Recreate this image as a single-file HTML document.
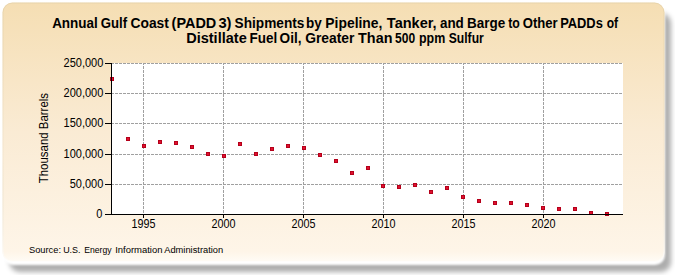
<!DOCTYPE html>
<html><head><meta charset="utf-8"><style>
html,body{margin:0;padding:0;background:#fff;width:675px;height:275px;overflow:hidden}
svg{display:block}
text{font-family:'Liberation Sans',sans-serif;fill:#000}
</style></head><body>
<svg width="675" height="275" viewBox="0 0 675 275">
<defs>
<linearGradient id="bg" x1="0" y1="0" x2="0" y2="1">
<stop offset="0" stop-color="#F5DEB3"/>
<stop offset="0.5" stop-color="#FAEBD4"/>
<stop offset="0.96" stop-color="#FEF5E8"/>
<stop offset="1" stop-color="#FFFCF6"/>
</linearGradient>
<linearGradient id="bd" x1="0" y1="0" x2="0" y2="1">
<stop offset="0" stop-color="#C8BC98" stop-opacity="0.3"/>
<stop offset="0.6" stop-color="#C8BC98" stop-opacity="0.15"/>
<stop offset="1" stop-color="#FFFFFF" stop-opacity="0.8"/>
</linearGradient>
<filter id="sh" x="-5%" y="-10%" width="115%" height="130%">
<feGaussianBlur stdDeviation="2.8"/>
</filter>
<filter id="hb" x="-5%" y="-10%" width="115%" height="130%">
<feGaussianBlur stdDeviation="0.8"/>
</filter>
</defs>
<rect x="9.5" y="13" width="661.5" height="259" rx="10" ry="10" fill="#000" fill-opacity="0.32" filter="url(#sh)"/>
<rect x="3" y="4.5" width="662" height="260.5" rx="10" ry="10" fill="#fff" filter="url(#hb)"/>
<rect x="2.5" y="2.5" width="662" height="259.5" rx="10" ry="10" fill="url(#bg)"/>
<rect x="3.0" y="3.0" width="661" height="258.5" rx="9.5" ry="9.5" fill="none" stroke="url(#bd)" stroke-width="1"/>
<rect x="111" y="63" width="512" height="152" fill="#fff"/>
<g shape-rendering="crispEdges">

<line x1="111" y1="93.5" x2="623" y2="93.5" stroke="#a0a0a0" stroke-width="1" stroke-dasharray="3,1"/>
<line x1="111" y1="123.5" x2="623" y2="123.5" stroke="#a0a0a0" stroke-width="1" stroke-dasharray="3,1"/>
<line x1="111" y1="154.5" x2="623" y2="154.5" stroke="#a0a0a0" stroke-width="1" stroke-dasharray="3,1"/>
<line x1="111" y1="184.5" x2="623" y2="184.5" stroke="#a0a0a0" stroke-width="1" stroke-dasharray="3,1"/>
<line x1="143.5" y1="64" x2="143.5" y2="214" stroke="#a0a0a0" stroke-width="1" stroke-dasharray="3,1" stroke-dashoffset="2"/>
<line x1="223.5" y1="64" x2="223.5" y2="214" stroke="#a0a0a0" stroke-width="1" stroke-dasharray="3,1" stroke-dashoffset="2"/>
<line x1="303.5" y1="64" x2="303.5" y2="214" stroke="#a0a0a0" stroke-width="1" stroke-dasharray="3,1" stroke-dashoffset="2"/>
<line x1="383.5" y1="64" x2="383.5" y2="214" stroke="#a0a0a0" stroke-width="1" stroke-dasharray="3,1" stroke-dashoffset="2"/>
<line x1="463.5" y1="64" x2="463.5" y2="214" stroke="#a0a0a0" stroke-width="1" stroke-dasharray="3,1" stroke-dashoffset="2"/>
<line x1="543.5" y1="64" x2="543.5" y2="214" stroke="#a0a0a0" stroke-width="1" stroke-dasharray="3,1" stroke-dashoffset="2"/>
<line x1="111" y1="63.5" x2="623" y2="63.5" stroke="#a0a0a0" stroke-width="1" stroke-dasharray="3,1"/>
<rect x="110" y="77" width="4" height="4" fill="#B4001A"/><rect x="111" y="78" width="2" height="2" fill="#E0102E"/>
<rect x="126" y="137" width="4" height="4" fill="#B4001A"/><rect x="127" y="138" width="2" height="2" fill="#E0102E"/>
<rect x="142" y="144" width="4" height="4" fill="#B4001A"/><rect x="143" y="145" width="2" height="2" fill="#E0102E"/>
<rect x="158" y="140" width="4" height="4" fill="#B4001A"/><rect x="159" y="141" width="2" height="2" fill="#E0102E"/>
<rect x="174" y="141" width="4" height="4" fill="#B4001A"/><rect x="175" y="142" width="2" height="2" fill="#E0102E"/>
<rect x="190" y="145" width="4" height="4" fill="#B4001A"/><rect x="191" y="146" width="2" height="2" fill="#E0102E"/>
<rect x="206" y="152" width="4" height="4" fill="#B4001A"/><rect x="207" y="153" width="2" height="2" fill="#E0102E"/>
<rect x="222" y="154" width="4" height="4" fill="#B4001A"/><rect x="223" y="155" width="2" height="2" fill="#E0102E"/>
<rect x="238" y="142" width="4" height="4" fill="#B4001A"/><rect x="239" y="143" width="2" height="2" fill="#E0102E"/>
<rect x="254" y="152" width="4" height="4" fill="#B4001A"/><rect x="255" y="153" width="2" height="2" fill="#E0102E"/>
<rect x="270" y="147" width="4" height="4" fill="#B4001A"/><rect x="271" y="148" width="2" height="2" fill="#E0102E"/>
<rect x="286" y="144" width="4" height="4" fill="#B4001A"/><rect x="287" y="145" width="2" height="2" fill="#E0102E"/>
<rect x="302" y="146" width="4" height="4" fill="#B4001A"/><rect x="303" y="147" width="2" height="2" fill="#E0102E"/>
<rect x="318" y="153" width="4" height="4" fill="#B4001A"/><rect x="319" y="154" width="2" height="2" fill="#E0102E"/>
<rect x="334" y="159" width="4" height="4" fill="#B4001A"/><rect x="335" y="160" width="2" height="2" fill="#E0102E"/>
<rect x="350" y="171" width="4" height="4" fill="#B4001A"/><rect x="351" y="172" width="2" height="2" fill="#E0102E"/>
<rect x="366" y="166" width="4" height="4" fill="#B4001A"/><rect x="367" y="167" width="2" height="2" fill="#E0102E"/>
<rect x="381" y="184" width="4" height="4" fill="#B4001A"/><rect x="382" y="185" width="2" height="2" fill="#E0102E"/>
<rect x="397" y="185" width="4" height="4" fill="#B4001A"/><rect x="398" y="186" width="2" height="2" fill="#E0102E"/>
<rect x="413" y="183" width="4" height="4" fill="#B4001A"/><rect x="414" y="184" width="2" height="2" fill="#E0102E"/>
<rect x="429" y="190" width="4" height="4" fill="#B4001A"/><rect x="430" y="191" width="2" height="2" fill="#E0102E"/>
<rect x="445" y="186" width="4" height="4" fill="#B4001A"/><rect x="446" y="187" width="2" height="2" fill="#E0102E"/>
<rect x="461" y="195" width="4" height="4" fill="#B4001A"/><rect x="462" y="196" width="2" height="2" fill="#E0102E"/>
<rect x="477" y="199" width="4" height="4" fill="#B4001A"/><rect x="478" y="200" width="2" height="2" fill="#E0102E"/>
<rect x="493" y="201" width="4" height="4" fill="#B4001A"/><rect x="494" y="202" width="2" height="2" fill="#E0102E"/>
<rect x="509" y="201" width="4" height="4" fill="#B4001A"/><rect x="510" y="202" width="2" height="2" fill="#E0102E"/>
<rect x="525" y="203" width="4" height="4" fill="#B4001A"/><rect x="526" y="204" width="2" height="2" fill="#E0102E"/>
<rect x="541" y="206" width="4" height="4" fill="#B4001A"/><rect x="542" y="207" width="2" height="2" fill="#E0102E"/>
<rect x="557" y="207" width="4" height="4" fill="#B4001A"/><rect x="558" y="208" width="2" height="2" fill="#E0102E"/>
<rect x="573" y="207" width="4" height="4" fill="#B4001A"/><rect x="574" y="208" width="2" height="2" fill="#E0102E"/>
<rect x="589" y="211" width="4" height="4" fill="#B4001A"/><rect x="590" y="212" width="2" height="2" fill="#E0102E"/>
<rect x="605" y="212" width="4" height="4" fill="#B4001A"/><rect x="606" y="213" width="2" height="2" fill="#E0102E"/>
<line x1="111.5" y1="63" x2="111.5" y2="215" stroke="#000" stroke-width="1"/>
<line x1="105" y1="214.5" x2="623" y2="214.5" stroke="#000" stroke-width="1"/>
<line x1="105" y1="63.5" x2="111" y2="63.5" stroke="#000" stroke-width="1"/>
<line x1="105" y1="93.5" x2="111" y2="93.5" stroke="#000" stroke-width="1"/>
<line x1="105" y1="123.5" x2="111" y2="123.5" stroke="#000" stroke-width="1"/>
<line x1="105" y1="154.5" x2="111" y2="154.5" stroke="#000" stroke-width="1"/>
<line x1="105" y1="184.5" x2="111" y2="184.5" stroke="#000" stroke-width="1"/>
<line x1="105" y1="214.5" x2="111" y2="214.5" stroke="#000" stroke-width="1"/>
<line x1="143.5" y1="214" x2="143.5" y2="218" stroke="#000" stroke-width="1"/>
<line x1="223.5" y1="214" x2="223.5" y2="218" stroke="#000" stroke-width="1"/>
<line x1="303.5" y1="214" x2="303.5" y2="218" stroke="#000" stroke-width="1"/>
<line x1="383.5" y1="214" x2="383.5" y2="218" stroke="#000" stroke-width="1"/>
<line x1="463.5" y1="214" x2="463.5" y2="218" stroke="#000" stroke-width="1"/>
<line x1="543.5" y1="214" x2="543.5" y2="218" stroke="#000" stroke-width="1"/>
</g>
<text transform="translate(103.3 66.6) scale(1 1.13)" font-size="11" text-anchor="end">250,000</text>
<text transform="translate(103.3 96.6) scale(1 1.13)" font-size="11" text-anchor="end">200,000</text>
<text transform="translate(103.3 126.6) scale(1 1.13)" font-size="11" text-anchor="end">150,000</text>
<text transform="translate(103.3 157.6) scale(1 1.13)" font-size="11" text-anchor="end">100,000</text>
<text transform="translate(103.3 187.6) scale(1 1.13)" font-size="11" text-anchor="end">50,000</text>
<text transform="translate(102.3 217.6) scale(1 1.13)" font-size="11" text-anchor="end">0</text>
<text transform="translate(143.6 227.6) scale(1 1.12)" font-size="10.8" text-anchor="middle">1995</text>
<text transform="translate(223.6 227.6) scale(1 1.12)" font-size="10.8" text-anchor="middle">2000</text>
<text transform="translate(303.6 227.6) scale(1 1.12)" font-size="10.8" text-anchor="middle">2005</text>
<text transform="translate(383.6 227.6) scale(1 1.12)" font-size="10.8" text-anchor="middle">2010</text>
<text transform="translate(463.6 227.6) scale(1 1.12)" font-size="10.8" text-anchor="middle">2015</text>
<text transform="translate(543.6 227.6) scale(1 1.12)" font-size="10.8" text-anchor="middle">2020</text>
<text transform="translate(48.1 138.1) rotate(-90) scale(1 1.09)" font-size="11.45" text-anchor="middle">Thousand Barrels</text>
<text transform="translate(52.13 27.6) scale(1.006 1.04)" font-size="13.4" font-weight="bold">Annual</text>
<text transform="translate(100.77 27.6) scale(0.983 1.04)" font-size="13.4" font-weight="bold">Gulf</text>
<text transform="translate(130.55 27.6) scale(1.031 1.04)" font-size="13.4" font-weight="bold">Coast</text>
<text transform="translate(171.62 27.6) scale(1.080 1.04)" font-size="13.4" font-weight="bold">(PADD</text>
<text transform="translate(218.40 27.6) scale(1.102 1.04)" font-size="13.4" font-weight="bold">3)</text>
<text transform="translate(234.53 27.6) scale(1.021 1.04)" font-size="13.4" font-weight="bold">Shipments</text>
<text transform="translate(305.99 27.6) scale(1.008 1.04)" font-size="13.4" font-weight="bold">by</text>
<text transform="translate(325.37 27.6) scale(1.035 1.04)" font-size="13.4" font-weight="bold">Pipeline,</text>
<text transform="translate(386.85 27.6) scale(1.084 1.04)" font-size="13.4" font-weight="bold">Tanker,</text>
<text transform="translate(439.93 27.6) scale(1.003 1.04)" font-size="13.4" font-weight="bold">and</text>
<text transform="translate(467.09 27.6) scale(1.007 1.04)" font-size="13.4" font-weight="bold">Barge</text>
<text transform="translate(508.18 27.6) scale(0.917 1.04)" font-size="13.4" font-weight="bold">to</text>
<text transform="translate(522.78 27.6) scale(0.978 1.04)" font-size="13.4" font-weight="bold">Other</text>
<text transform="translate(560.13 27.6) scale(0.962 1.04)" font-size="13.4" font-weight="bold">PADDs</text>
<text transform="translate(606.64 27.6) scale(0.900 1.04)" font-size="13.4" font-weight="bold">of</text>
<text transform="translate(186.13 42.7) scale(1.086 1.04)" font-size="13.4" font-weight="bold">Distillate</text>
<text transform="translate(249.49 42.7) scale(1.003 1.04)" font-size="13.4" font-weight="bold">Fuel</text>
<text transform="translate(279.56 42.7) scale(1.016 1.04)" font-size="13.4" font-weight="bold">Oil,</text>
<text transform="translate(305.15 42.7) scale(1.034 1.04)" font-size="13.4" font-weight="bold">Greater</text>
<text transform="translate(358.06 42.7) scale(1.075 1.04)" font-size="13.4" font-weight="bold">Than</text>
<text transform="translate(395.04 42.7) scale(0.899 1.04)" font-size="13.4" font-weight="bold">500</text>
<text transform="translate(418.95 42.7) scale(0.929 1.04)" font-size="13.4" font-weight="bold">ppm</text>
<text transform="translate(448.76 42.7) scale(0.906 1.04)" font-size="13.4" font-weight="bold">Sulfur</text>

<text transform="translate(29.03 252.6) scale(0.998 1.0)" font-size="9.3" font-weight="normal">Source:</text>
<text transform="translate(63.17 252.6) scale(0.963 1.0)" font-size="9.3" font-weight="normal">U.S.</text>
<text transform="translate(84.21 252.6) scale(0.930 1.0)" font-size="9.3" font-weight="normal">Energy</text>
<text transform="translate(115.15 252.6) scale(1.019 1.0)" font-size="9.3" font-weight="normal">Information</text>
<text transform="translate(164.20 252.6) scale(1.002 1.0)" font-size="9.3" font-weight="normal">Administration</text>
</svg></body></html>
